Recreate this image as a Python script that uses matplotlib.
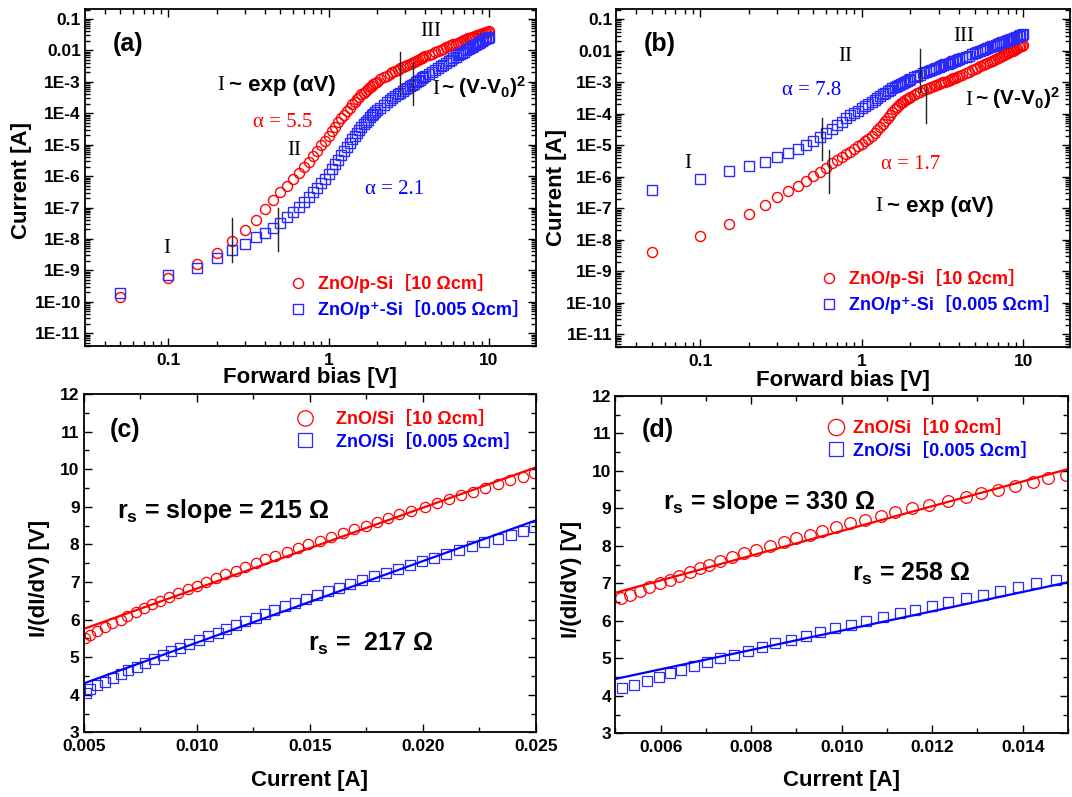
import numpy as np
import matplotlib
matplotlib.use('Agg')
import matplotlib.pyplot as plt
from matplotlib.ticker import FixedLocator, LogLocator, NullFormatter, MultipleLocator, FixedFormatter, FormatStrFormatter

plt.rcParams['font.family'] = ['Liberation Sans', 'DejaVu Sans', 'Noto Sans CJK KR']
plt.rcParams['font.weight'] = 'bold'
plt.rcParams['mathtext.fontset'] = 'custom'
plt.rcParams['mathtext.rm'] = 'Liberation Sans:bold'
plt.rcParams['mathtext.bf'] = 'Liberation Sans:bold'
plt.rcParams['mathtext.it'] = 'Liberation Sans:bold'

# ---------------- data ----------------
bias_V = [0.05, 0.10, 0.15, 0.20, 0.25, 0.30, 0.35, 0.40, 0.45, 0.50,
          0.55, 0.60, 0.65, 0.70, 0.75, 0.80, 0.85, 0.90, 0.95, 1.00,
          1.05, 1.10, 1.15, 1.20, 1.25, 1.30, 1.35, 1.40, 1.45, 1.50,
          1.55, 1.60, 1.65, 1.70, 1.75, 1.80, 1.85, 1.90, 1.95, 2.00,
          2.1, 2.2, 2.3, 2.4, 2.5, 2.6, 2.7, 2.8, 2.9, 3.0,
          3.1, 3.2, 3.3, 3.4, 3.5, 3.6, 3.7, 3.8, 3.9, 4.0,
          4.2, 4.4, 4.6, 4.8, 5.0, 5.2, 5.4, 5.6, 5.8, 6.0,
          6.2, 6.4, 6.6, 6.8, 7.0, 7.2, 7.4, 7.6, 7.8, 8.0,
          8.2, 8.4, 8.6, 8.8, 9.0, 9.2, 9.4, 9.6, 9.8, 10.0]

# log10 of current [A]
a_p_log10I = [-9.85, -9.24, -8.80, -8.45, -8.06, -7.72, -7.39, -7.06, -6.76, -6.51,
              -6.30, -6.10, -5.91, -5.72, -5.54, -5.36, -5.19, -5.02, -4.87, -4.72,
              -4.57, -4.43, -4.29, -4.16, -4.04, -3.92, -3.82, -3.72, -3.63, -3.55,
              -3.47, -3.40, -3.34, -3.28, -3.22, -3.17, -3.12, -3.07, -3.03, -2.99,
              -2.92, -2.86, -2.80, -2.75, -2.70, -2.65, -2.61, -2.57, -2.53, -2.49,
              -2.46, -2.42, -2.39, -2.36, -2.33, -2.30, -2.27, -2.24, -2.22, -2.19,
              -2.15, -2.10, -2.06, -2.02, -1.98, -1.94, -1.90, -1.87, -1.84, -1.81,
              -1.78, -1.75, -1.72, -1.70, -1.67, -1.65, -1.62, -1.60, -1.58, -1.56,
              -1.54, -1.52, -1.50, -1.48, -1.47, -1.45, -1.43, -1.42, -1.40, -1.39]
a_pp_log10I = [-9.72, -9.16, -8.94, -8.61, -8.36, -8.15, -7.95, -7.81, -7.65, -7.48,
               -7.31, -7.14, -6.98, -6.82, -6.67, -6.52, -6.37, -6.22, -6.08, -5.93,
               -5.78, -5.63, -5.48, -5.33, -5.20, -5.07, -4.95, -4.83, -4.72, -4.62,
               -4.52, -4.43, -4.35, -4.27, -4.20, -4.13, -4.07, -4.01, -3.96, -3.91,
               -3.82, -3.73, -3.65, -3.58, -3.51, -3.45, -3.39, -3.34, -3.29, -3.24,
               -3.19, -3.14, -3.10, -3.06, -3.01, -2.97, -2.93, -2.89, -2.86, -2.82,
               -2.75, -2.69, -2.63, -2.57, -2.51, -2.46, -2.40, -2.35, -2.30, -2.25,
               -2.21, -2.16, -2.12, -2.08, -2.04, -2.00, -1.97, -1.93, -1.89, -1.86,
               -1.83, -1.79, -1.76, -1.73, -1.70, -1.67, -1.64, -1.61, -1.59, -1.56]
b_p_log10I = [-8.38, -7.87, -7.50, -7.17, -6.89, -6.64, -6.46, -6.28, -6.13, -5.98,
              -5.84, -5.71, -5.58, -5.47, -5.38, -5.29, -5.20, -5.12, -5.04, -4.96,
              -4.88, -4.79, -4.70, -4.61, -4.52, -4.43, -4.33, -4.23, -4.13, -4.03,
              -3.94, -3.86, -3.79, -3.73, -3.67, -3.62, -3.57, -3.53, -3.49, -3.46,
              -3.40, -3.35, -3.30, -3.26, -3.23, -3.20, -3.17, -3.13, -3.10, -3.07,
              -3.04, -3.01, -2.99, -2.96, -2.93, -2.91, -2.88, -2.86, -2.84, -2.82,
              -2.77, -2.72, -2.67, -2.63, -2.58, -2.54, -2.50, -2.46, -2.42, -2.39,
              -2.35, -2.32, -2.29, -2.26, -2.23, -2.20, -2.17, -2.14, -2.11, -2.08,
              -2.05, -2.02, -2.00, -1.97, -1.94, -1.92, -1.89, -1.87, -1.84, -1.82]
b_pp_log10I = [-6.43, -6.07, -5.83, -5.67, -5.52, -5.39, -5.25, -5.12, -4.99, -4.86,
               -4.74, -4.61, -4.48, -4.36, -4.25, -4.14, -4.05, -3.97, -3.90, -3.83,
               -3.76, -3.69, -3.62, -3.56, -3.50, -3.44, -3.39, -3.34, -3.29, -3.24,
               -3.20, -3.16, -3.12, -3.08, -3.05, -3.02, -2.99, -2.96, -2.93, -2.90,
               -2.85, -2.80, -2.76, -2.72, -2.68, -2.65, -2.61, -2.58, -2.55, -2.52,
               -2.49, -2.46, -2.44, -2.41, -2.39, -2.36, -2.34, -2.32, -2.30, -2.28,
               -2.24, -2.19, -2.16, -2.12, -2.08, -2.05, -2.01, -1.98, -1.95, -1.92,
               -1.89, -1.87, -1.84, -1.82, -1.79, -1.77, -1.74, -1.72, -1.70, -1.68,
               -1.66, -1.64, -1.62, -1.60, -1.58, -1.56, -1.54, -1.52, -1.50, -1.49]

# region boundary markers: (V, I_low, I_high)
a_bounds = [(0.25, 1.9e-9, 4.6e-8), (0.484, 4.0e-9, 9.5e-8),
            (2.77, 3.8e-4, 9.1e-3), (3.35, 1.8e-4, 4.4e-3)]
b_bounds = [(0.571, 3.5e-6, 7.2e-5), (0.627, 3.0e-7, 7.1e-6),
            (2.29, 4.7e-4, 1.1e-2), (2.49, 5.2e-5, 7.2e-4)]

log_ticks = [1e-11, 1e-10, 1e-9, 1e-8, 1e-7, 1e-6, 1e-5, 1e-4, 1e-3, 1e-2, 1e-1]
log_tick_labels = ['1E-11', '1E-10', '1E-9', '1E-8', '1E-7', '1E-6', '1E-5', '1E-4', '1E-3', '0.01', '0.1']
bias_ticks = [0.1, 1, 10]
bias_tick_labels = ['0.1', '1', '10']

# (c) I/(dI/dV) vs I
c_p_I = [0.00506, 0.00529, 0.00561, 0.00594, 0.00625, 0.00663, 0.00693, 0.00731, 0.00766, 0.00800,
         0.00838, 0.00876, 0.00919, 0.00960, 0.01001, 0.01043, 0.01086, 0.01127, 0.01173, 0.01214,
         0.01260, 0.01302, 0.01348, 0.01397, 0.01447, 0.01492, 0.01543, 0.01594, 0.01645, 0.01695,
         0.01747, 0.01797, 0.01847, 0.01896, 0.01949, 0.02010, 0.02063, 0.02116, 0.02170, 0.02223,
         0.02276, 0.02330, 0.02383, 0.02444, 0.02489]
c_p_V = [5.5, 5.6, 5.7, 5.8, 5.9, 6.0, 6.1, 6.2, 6.3, 6.4,
         6.5, 6.6, 6.7, 6.8, 6.9, 7.0, 7.1, 7.2, 7.3, 7.4,
         7.5, 7.6, 7.7, 7.8, 7.9, 8.0, 8.1, 8.2, 8.3, 8.4,
         8.5, 8.6, 8.7, 8.8, 8.9, 9.0, 9.1, 9.2, 9.3, 9.4,
         9.5, 9.6, 9.7, 9.8, 9.9]
c_pp_I = [0.00508, 0.00530, 0.00561, 0.00594, 0.00628, 0.00663, 0.00696, 0.00736, 0.00769, 0.00811,
          0.00849, 0.00887, 0.00925, 0.00967, 0.01008, 0.01048, 0.01092, 0.01130, 0.01173, 0.01214,
          0.01260, 0.01302, 0.01343, 0.01390, 0.01436, 0.01482, 0.01530, 0.01579, 0.01629, 0.01678,
          0.01731, 0.01785, 0.01835, 0.01888, 0.01941, 0.01998, 0.02051, 0.02104, 0.02159, 0.02215,
          0.02269, 0.02330, 0.02390, 0.02441, 0.02489]
c_pp_V = [4.05, 4.15, 4.25, 4.35, 4.45, 4.55, 4.65, 4.75, 4.85, 4.95,
          5.05, 5.15, 5.25, 5.35, 5.45, 5.55, 5.65, 5.75, 5.85, 5.95,
          6.05, 6.15, 6.25, 6.35, 6.45, 6.55, 6.65, 6.75, 6.85, 6.95,
          7.05, 7.15, 7.25, 7.35, 7.45, 7.55, 7.65, 7.75, 7.85, 7.95,
          8.05, 8.15, 8.25, 8.35, 8.45]
c_fit_I = [0.005, 0.025]
c_fit_p = [5.75, 10.05]
c_fit_pp = [4.30, 8.64]

# (d)
d_p_I = [0.005115, 0.005328, 0.005542, 0.005748, 0.005977, 0.006206, 0.006412, 0.006641, 0.006870, 0.007069,
         0.007313, 0.007580, 0.007847, 0.008115, 0.008420, 0.008725, 0.008992, 0.009298, 0.009565, 0.009870,
         0.010176, 0.010519, 0.010863, 0.011168, 0.011550, 0.011931, 0.012351, 0.012748, 0.013076, 0.013458,
         0.013840, 0.014221, 0.014565, 0.014947]
d_p_V = [6.6, 6.7, 6.8, 6.9, 7.0, 7.1, 7.2, 7.3, 7.4, 7.5,
         7.6, 7.7, 7.8, 7.9, 8.0, 8.1, 8.2, 8.3, 8.4, 8.5,
         8.6, 8.7, 8.8, 8.9, 9.0, 9.1, 9.2, 9.3, 9.4, 9.5,
         9.6, 9.7, 9.8, 9.9]
d_pp_I = [0.005137, 0.005420, 0.005695, 0.005954, 0.006206, 0.006458, 0.006740, 0.007023, 0.007313, 0.007618,
          0.007924, 0.008229, 0.008534, 0.008878, 0.009206, 0.009511, 0.009847, 0.010198, 0.010534, 0.010916,
          0.011282, 0.011626, 0.011985, 0.012351, 0.012748, 0.013115, 0.013496, 0.013893, 0.014282, 0.014733]
d_pp_V = [4.2, 4.3, 4.4, 4.5, 4.6, 4.7, 4.8, 4.9, 5.0, 5.1,
          5.2, 5.3, 5.4, 5.5, 5.6, 5.7, 5.8, 5.9, 6.0, 6.1,
          6.2, 6.3, 6.4, 6.5, 6.6, 6.7, 6.8, 6.9, 7.0, 7.1]
d_fit_I = [0.005, 0.015]
d_fit_p = [6.75, 10.05]
d_fit_pp = [4.45, 7.03]

labels_ab = ['ZnO/p-Si［10 Ωcm］', 'ZnO/p⁺-Si［0.005 Ωcm］']
labels_cd = ['ZnO/Si［10 Ωcm］', 'ZnO/Si［0.005 Ωcm］']

RED = '#ff0000'
BLUE = '#0000ff'
MBLUE = '#2a2aff'
SERIF = ['Liberation Serif', 'DejaVu Serif']
LEGFONT = ['Liberation Sans', 'DejaVu Sans', 'Noto Sans CJK KR']

W, H = 1072, 797
fig = plt.figure(figsize=(W / 100, H / 100), dpi=100)


def fpos(l, t, r, b):
    return [l / W, 1 - b / H, (r - l) / W, (b - t) / H]


def ftext(x, y, s, **kw):
    return fig.text(x / W, 1 - y / H, s, **kw)


ax_a = fig.add_axes(fpos(85, 9, 535.5, 345.7))
ax_b = fig.add_axes(fpos(616.4, 9, 1070, 347))
ax_c = fig.add_axes(fpos(83.7, 394, 536, 732.3))
ax_d = fig.add_axes(fpos(615.4, 396, 1068, 733.3))

for ax in (ax_a, ax_b, ax_c, ax_d):
    for sp in ax.spines.values():
        sp.set_linewidth(1.3)
    ax.tick_params(which='both', direction='in', top=True, right=True, width=1.0,
                   labelsize=12.5)
    ax.tick_params(which='major', length=6)
    ax.tick_params(which='minor', length=3.5)
    ax.tick_params(axis='x', pad=5)
    ax.tick_params(axis='y', pad=3)

# ---- log panels ----
for ax, pdata, ppdata, bounds in ((ax_a, a_p_log10I, a_pp_log10I, a_bounds),
                                  (ax_b, b_p_log10I, b_pp_log10I, b_bounds)):
    ax.set_xscale('log')
    ax.set_yscale('log')
    ax.plot(bias_V, 10 ** np.array(pdata), 'o', ms=7.2, mfc='none', mec=RED, mew=1.0,
            label=labels_ab[0])
    ax.plot(bias_V, 10 ** np.array(ppdata), 's', ms=6.6, mfc='none', mec=MBLUE, mew=1.0,
            label=labels_ab[1])
    for v, lo, hi in bounds:
        ax.plot([v, v], [lo, hi], color='#222222', lw=1.0)
    ax.set_xlim(0.0302, 19.5)
    ax.set_ylim(4.0e-12, 0.208)
    ax.yaxis.set_major_locator(FixedLocator(log_ticks))
    ax.yaxis.set_major_formatter(FixedFormatter(log_tick_labels))
    ax.yaxis.set_minor_locator(LogLocator(base=10, subs=np.arange(2, 10), numticks=100))
    ax.yaxis.set_minor_formatter(NullFormatter())
    ax.xaxis.set_major_locator(FixedLocator(bias_ticks))
    ax.xaxis.set_major_formatter(FixedFormatter(bias_tick_labels))
    ax.xaxis.set_minor_locator(LogLocator(base=10, subs=np.arange(2, 10), numticks=100))
    ax.xaxis.set_minor_formatter(NullFormatter())
    ax.set_xlabel('Forward bias [V]', fontsize=16, fontweight='bold', va='center')
    ax.set_ylabel('Current [A]', fontsize=16, fontweight='bold', va='center')

ax_a.xaxis.set_label_coords(0.5, -0.093)
ax_a.yaxis.set_label_coords(-0.14, 0.492)
ax_b.xaxis.set_label_coords(0.5, -0.098)
ax_b.yaxis.set_label_coords(-0.133, 0.473)

leg_kw = dict(frameon=False, borderpad=0, borderaxespad=0, handlelength=1.0,
              handletextpad=0.62, labelspacing=0.38,
              prop={'weight': 'bold', 'size': 13, 'family': LEGFONT},
              labelcolor=[RED, BLUE], loc='center left', bbox_transform=fig.transFigure)
ax_a.legend(bbox_to_anchor=((298 - 9) / W, 1 - 296.5 / H), **leg_kw)
ax_b.legend(bbox_to_anchor=((829 - 9) / W, 1 - 291.5 / H), **leg_kw)

# annotations (a)
ftext(113, 44, '(a)', fontsize=18, fontweight='bold', va='center', ha='left')
ftext(430.5, 31.5, 'III', fontsize=15, family=SERIF, fontweight='normal', ha='center', va='center')
ftext(217, 86, 'I', fontsize=15, family=SERIF, fontweight='normal', ha='left', va='center')
ftext(229, 86, '~ exp (αV)', fontsize=16, fontweight='bold', ha='left', va='center')
ftext(253, 122.5, 'α = 5.5', fontsize=15, family=SERIF, fontweight='normal', color=RED, ha='left', va='center')
ftext(294, 150.5, 'II', fontsize=15, family=SERIF, fontweight='normal', ha='center', va='center')
ftext(365, 189.5, 'α = 2.1', fontsize=15, family=SERIF, fontweight='normal', color=BLUE, ha='left', va='center')
ftext(432, 94, 'I', fontsize=15, family=SERIF, fontweight='normal', ha='left', va='baseline')
ftext(441, 94, '~ (V-V$_{0}$)$^{2}$', fontsize=15, fontweight='bold', ha='left', va='baseline')
ftext(167, 248.5, 'I', fontsize=15, family=SERIF, fontweight='normal', ha='center', va='center')

# annotations (b)
ftext(644, 44, '(b)', fontsize=18, fontweight='bold', va='center', ha='left')
ftext(845, 56.5, 'II', fontsize=15, family=SERIF, fontweight='normal', ha='center', va='center')
ftext(963.5, 36.5, 'III', fontsize=15, family=SERIF, fontweight='normal', ha='center', va='center')
ftext(782, 90.5, 'α = 7.8', fontsize=15, family=SERIF, fontweight='normal', color=BLUE, ha='left', va='center')
ftext(965.5, 105, 'I', fontsize=15, family=SERIF, fontweight='normal', ha='left', va='baseline')
ftext(975, 105, '~ (V-V$_{0}$)$^{2}$', fontsize=15, fontweight='bold', ha='left', va='baseline')
ftext(881, 164.5, 'α = 1.7', fontsize=15, family=SERIF, fontweight='normal', color=RED, ha='left', va='center')
ftext(875.7, 207, 'I', fontsize=15, family=SERIF, fontweight='normal', ha='left', va='center')
ftext(887, 207, '~ exp (αV)', fontsize=16, fontweight='bold', ha='left', va='center')
ftext(687.6, 163.5, 'I', fontsize=15, family=SERIF, fontweight='normal', ha='center', va='center')

# ---- linear panels ----
for ax, pI, pV, ppI, ppV, fitI, fitp, fitpp, msc, mss in (
        (ax_c, c_p_I, c_p_V, c_pp_I, c_pp_V, c_fit_I, c_fit_p, c_fit_pp, 7.4, 6.6),
        (ax_d, d_p_I, d_p_V, d_pp_I, d_pp_V, d_fit_I, d_fit_p, d_fit_pp, 8.4, 7.0)):
    ax.plot(pI, pV, 'o', ms=msc, mfc='none', mec=RED, mew=0.9, label=labels_cd[0])
    ax.plot(ppI, ppV, 's', ms=mss, mfc='none', mec=MBLUE, mew=0.9, label=labels_cd[1])
    ax.plot(fitI, fitp, '-', color=RED, lw=1.6)
    ax.plot(fitI, fitpp, '-', color=BLUE, lw=1.6)
    ax.set_ylim(3, 12)
    ax.yaxis.set_major_locator(MultipleLocator(1))
    ax.yaxis.set_minor_locator(MultipleLocator(0.5))
    ax.set_xlabel('Current [A]', fontsize=16, fontweight='bold', va='center')
    ax.set_ylabel('I/(dI/dV) [V]', fontsize=16, fontweight='bold', va='center')
    ax.xaxis.set_major_formatter(FormatStrFormatter('%.3f'))

ax_c.set_xlim(0.005, 0.025)
ax_c.xaxis.set_major_locator(MultipleLocator(0.005))
ax_c.xaxis.set_minor_locator(MultipleLocator(0.0025))
ax_d.set_xlim(0.005, 0.015)
ax_d.xaxis.set_major_locator(FixedLocator([0.006, 0.008, 0.010, 0.012, 0.014]))
ax_d.xaxis.set_minor_locator(MultipleLocator(0.001))

ax_c.xaxis.set_label_coords(0.5, -0.141)
ax_c.yaxis.set_label_coords(-0.0975, 0.456)
ax_d.xaxis.set_label_coords(0.5, -0.14)
ax_d.yaxis.set_label_coords(-0.098, 0.457)

leg_kw2 = dict(frameon=False, borderpad=0, borderaxespad=0, handlelength=1.5,
               labelspacing=0.3, prop={'weight': 'bold', 'size': 13, 'family': LEGFONT},
               labelcolor=[RED, BLUE], loc='center left', bbox_transform=fig.transFigure)
ax_c.legend(bbox_to_anchor=((305 - 13.5) / W, 1 - 431 / H), handletextpad=0.95,
            markerscale=1.5, **leg_kw2)
ax_d.legend(bbox_to_anchor=((836 - 13.5) / W, 1 - 440 / H), handletextpad=0.2,
            markerscale=1.4, **leg_kw2)

ftext(110, 430, '(c)', fontsize=18, fontweight='bold', va='center', ha='left')
ftext(117, 518, 'r$_{s}$ = slope = 215 Ω', fontsize=18, fontweight='bold', ha='left', va='baseline')
ftext(308, 650.7, 'r$_{s}$ =  217 Ω', fontsize=18, fontweight='bold', ha='left', va='baseline')
ftext(642, 430, '(d)', fontsize=18, fontweight='bold', va='center', ha='left')
ftext(663, 509, 'r$_{s}$ = slope = 330 Ω', fontsize=18, fontweight='bold', ha='left', va='baseline')
ftext(851.5, 580.7, 'r$_{s}$ = 258 Ω', fontsize=18, fontweight='bold', ha='left', va='baseline')

fig.savefig('out.png', dpi=100)
